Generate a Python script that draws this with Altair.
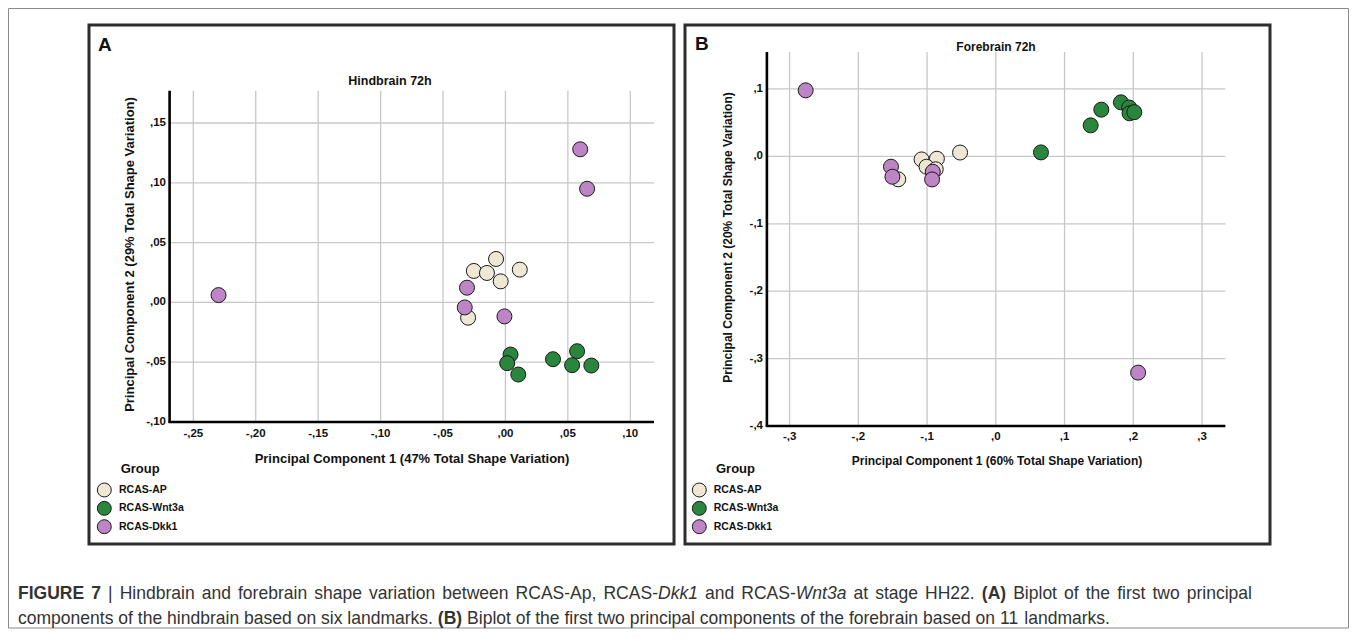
import altair as alt
import pandas as pd

# ---------------- data ----------------
groups = ["RCAS-AP", "RCAS-Wnt3a", "RCAS-Dkk1"]
group_colors = ["#EDE7D4", "#2A853D", "#BD85C5"]

# Panel A  (Hindbrain 72h)
a_ap_pc1 = [-0.0075, -0.0253, -0.0148, -0.0038, 0.0115, -0.0299]
a_ap_pc2 = [0.0363, 0.0263, 0.0246, 0.0176, 0.0274, -0.0128]
a_wnt_pc1 = [0.0041, 0.0014, 0.0103, 0.0381, 0.0574, 0.0534, 0.0688]
a_wnt_pc2 = [-0.0436, -0.0508, -0.0603, -0.0475, -0.0408, -0.0525, -0.0528]
a_dkk_pc1 = [0.0599, 0.0654, -0.2298, -0.0308, -0.0326, -0.0008]
a_dkk_pc2 = [0.128, 0.095, 0.0061, 0.0123, -0.0042, -0.0117]

# Panel B  (Forebrain 72h)
b_ap_pc1 = [-0.108, -0.0857, -0.1008, -0.0874, -0.142, -0.052]
b_ap_pc2 = [-0.0045, -0.0035, -0.0154, -0.0191, -0.034, 0.0057]
b_wnt_pc1 = [0.0657, 0.138, 0.1535, 0.182, 0.194, 0.1945, 0.2015]
b_wnt_pc2 = [0.0059, 0.046, 0.0693, 0.0802, 0.0725, 0.0639, 0.0656]
b_dkk_pc1 = [-0.2766, -0.1525, -0.1504, -0.0917, -0.0927, 0.207]
b_dkk_pc2 = [0.098, -0.0153, -0.0302, -0.0228, -0.0342, -0.3208]

a_x_ticks = [-0.25, -0.20, -0.15, -0.10, -0.05, 0.00, 0.05, 0.10]
a_x_labels = ["-,25", "-,20", "-,15", "-,10", "-,05", ",00", ",05", ",10"]
a_y_ticks = [-0.10, -0.05, 0.00, 0.05, 0.10, 0.15]
a_y_labels = ["-,10", "-,05", ",00", ",05", ",10", ",15"]
b_x_ticks = [-0.3, -0.2, -0.1, 0.0, 0.1, 0.2, 0.3]
b_x_labels = ["-,3", "-,2", "-,1", ",0", ",1", ",2", ",3"]
b_y_ticks = [-0.4, -0.3, -0.2, -0.1, 0.0, 0.1]
b_y_labels = ["-,4", "-,3", "-,2", "-,1", ",0", ",1"]

caption_line1 = [
    ("FIGURE 7 ", "bold"), ("|", "normal"),
    (" Hindbrain and forebrain shape variation between RCAS-Ap, RCAS-", "normal"),
    ("Dkk1", "italic"), (" and RCAS-", "normal"), ("Wnt3a", "italic"),
    (" at stage HH22. ", "normal"), ("(A)", "bold"),
    (" Biplot of the first two principal", "normal"),
]
caption_line2 = [
    ("components of the hindbrain based on six landmarks. ", "normal"), ("(B)", "bold"),
    (" Biplot of the first two principal components of the forebrain based on 11 landmarks.", "normal"),
]

# ---------------- style ----------------
FONT = "Liberation Sans"
GRID = "#c8c8c8"
INK = "#111111"
CAP = "#333333"
one = pd.DataFrame({"k": [0]})


def points_df(ap1, ap2, w1, w2, d1, d2):
    rows = []
    for g, xs, ys in [(groups[0], ap1, ap2), (groups[1], w1, w2), (groups[2], d1, d2)]:
        for x, y in zip(xs, ys):
            rows.append({"pc1": x, "pc2": y, "group": g})
    return pd.DataFrame(rows)


def val_text(text, x, y, size, weight="bold", align="center", angle=0, color=INK, baseline="middle"):
    kw = dict(text=text, align=align, baseline=baseline, font=FONT, fontSize=size,
              fontWeight=weight, color=color)
    if angle:
        kw["angle"] = angle
    return alt.Chart(one).mark_text(**kw).encode(x=alt.value(x), y=alt.value(y))


def frame(x0, x1, y0, y1, color, width):
    return alt.Chart(one).mark_rect(fill="transparent", stroke=color, strokeWidth=width).encode(
        x=alt.value(x0), x2=alt.value(x1), y=alt.value(y0), y2=alt.value(y1))


def panel(df, xdom, xrng, ydom, yrng, xt, xl, yt, yl, ylab_x, xlab_y, lab_size):
    xs = alt.Scale(domain=xdom, range=xrng, nice=False, zero=False)
    ys = alt.Scale(domain=ydom, range=yrng, nice=False, zero=False)
    layers = []
    layers.append(alt.Chart(pd.DataFrame({"v": xt})).mark_rule(color=GRID, strokeWidth=1.3).encode(
        x=alt.X("v:Q", scale=xs, axis=None), y=alt.value(yrng[1]), y2=alt.value(yrng[0])))
    layers.append(alt.Chart(pd.DataFrame({"v": yt[1:]})).mark_rule(color=GRID, strokeWidth=1.3).encode(
        y=alt.Y("v:Q", scale=ys, axis=None), x=alt.value(xrng[0]), x2=alt.value(xrng[1])))
    # axis lines
    layers.append(alt.Chart(one).mark_rule(color="#000", strokeWidth=2.6).encode(
        x=alt.value(xrng[0]), y=alt.value(yrng[1]), y2=alt.value(yrng[0] + 1)))
    layers.append(alt.Chart(one).mark_rule(color="#000", strokeWidth=2.6).encode(
        y=alt.value(yrng[0]), x=alt.value(xrng[0] - 1), x2=alt.value(xrng[1])))
    # tick labels
    layers.append(alt.Chart(pd.DataFrame({"v": xt, "lab": xl})).mark_text(
        font=FONT, fontSize=lab_size, fontWeight="bold", color=INK, baseline="middle", align="center").encode(
        x=alt.X("v:Q", scale=xs, axis=None), y=alt.value(xlab_y), text="lab:N"))
    layers.append(alt.Chart(pd.DataFrame({"v": yt, "lab": yl})).mark_text(
        font=FONT, fontSize=lab_size, fontWeight="bold", color=INK, baseline="middle", align="right").encode(
        y=alt.Y("v:Q", scale=ys, axis=None), x=alt.value(ylab_x), text="lab:N"))
    # points
    layers.append(alt.Chart(df).mark_circle(size=225, opacity=1, stroke="#1a1a1a", strokeWidth=1).encode(
        x=alt.X("pc1:Q", scale=xs, axis=None),
        y=alt.Y("pc2:Q", scale=ys, axis=None),
        fill=alt.Fill("group:N", scale=alt.Scale(domain=groups, range=group_colors), legend=None)))
    return layers


def legend(cx, lx, gx):
    ldf = pd.DataFrame({"group": groups})
    ls = alt.Scale(domain=groups, range=[482, 518.7], padding=0)
    pts = alt.Chart(ldf).mark_circle(size=195, opacity=1, stroke="#1a1a1a", strokeWidth=1).encode(
        y=alt.Y("group:N", scale=ls, axis=None, sort=groups), x=alt.value(cx),
        fill=alt.Fill("group:N", scale=alt.Scale(domain=groups, range=group_colors), legend=None))
    txt = alt.Chart(ldf).mark_text(font=FONT, fontSize=10.5, fontWeight="bold", color=INK,
                                   align="left", baseline="middle").encode(
        y=alt.Y("group:N", scale=ls, axis=None, sort=groups), x=alt.value(lx), text="group:N")
    return [val_text("Group", gx, 460.7, 13, align="left"), pts, txt]


# Arial / Liberation Sans advance widths (per 1000 em)
W_REG = {" ": 278, "|": 260, ",": 278, ".": 278, "-": 333, "(": 333, ")": 333,
         "A": 667, "B": 667, "C": 722, "D": 722, "H": 722, "K": 667, "P": 667, "R": 722, "S": 667, "W": 944,
         "a": 556, "b": 556, "c": 500, "d": 556, "e": 556, "f": 278, "g": 556, "h": 556, "i": 222,
         "j": 222, "k": 500, "l": 222, "m": 833, "n": 556, "o": 556, "p": 556, "q": 556, "r": 333,
         "s": 500, "t": 278, "u": 556, "v": 500, "w": 722, "x": 500, "y": 500, "z": 500}
W_BOLD = {" ": 278, "(": 333, ")": 333, "A": 722, "B": 722, "E": 667, "F": 611, "G": 778,
          "I": 278, "R": 722, "U": 722}


def tw(s, style):
    table = W_BOLD if style == "bold" else W_REG
    return sum(table.get(c, 556) for c in s) / 1000.0


def caption(segs, x0, y, fs, target=None):
    tokens = []
    for text, style in segs:
        parts = text.split(" ")
        for i, p in enumerate(parts):
            if i > 0:
                tokens.append((" ", style))
            if p:
                tokens.append((p, style))
    natural = sum(tw(t, s) for t, s in tokens) * fs
    nsp = sum(1 for t, _ in tokens if t == " ")
    extra = (target - natural) / nsp if target else 0.0
    layers = []
    x = x0
    for t, s in tokens:
        if t == " ":
            x += tw(" ", s) * fs + extra
            continue
        layers.append(alt.Chart(one).mark_text(
            text=t, align="left", baseline="alphabetic", font=FONT, fontSize=fs,
            fontWeight="bold" if s == "bold" else "normal",
            fontStyle="italic" if s == "italic" else "normal", color=CAP).encode(
            x=alt.value(x), y=alt.value(y)))
        x += tw(t, s) * fs
    return layers


cap_fs = 1092.0 / sum(tw(t, s) for t, s in caption_line2)

df_a = points_df(a_ap_pc1, a_ap_pc2, a_wnt_pc1, a_wnt_pc2, a_dkk_pc1, a_dkk_pc2)
df_b = points_df(b_ap_pc1, b_ap_pc2, b_wnt_pc1, b_wnt_pc2, b_dkk_pc1, b_dkk_pc2)

layers = []
layers.append(frame(0.5, 1340.5, 0.5, 620, "#8a8a8a", 1))
layers.append(frame(81, 666, 17, 536, "#2d2d2d", 3))
layers.append(frame(677, 1262, 17, 536, "#2d2d2d", 3))

layers += panel(df_a, [-0.269, 0.119], [161.6, 646.0], [-0.10, 0.177], [414, 82.7],
                a_x_ticks, a_x_labels, a_y_ticks, a_y_labels, 158, 426, 11.5)
layers += panel(df_b, [-0.333, 0.334], [758.9, 1217.4], [-0.4, 0.155], [418, 43.9],
                b_x_ticks, b_x_labels, b_y_ticks, b_y_labels, 755, 429, 11.5)

layers.append(val_text("A", 90, 36.5, 19, align="left"))
layers.append(val_text("B", 687, 35.5, 19, align="left"))
layers.append(val_text("Hindbrain 72h", 382, 73, 12.5))
layers.append(val_text("Forebrain 72h", 988, 39, 12))
layers.append(val_text("Principal Component 1 (47% Total Shape Variation)", 404, 451, 13))
layers.append(val_text("Principal Component 2 (29% Total Shape Variation)", 122, 246.5, 13, angle=270))
layers.append(val_text("Principal Component 1 (60% Total Shape Variation)", 989, 453, 12))
layers.append(val_text("Principal Component 2 (20% Total Shape Variation)", 720, 229.5, 12, angle=270))

layers += legend(96.3, 111, 112.7)
layers += legend(691.3, 705.7, 708)

layers += caption(caption_line1, 10, 591, cap_fs, target=1234.0)
layers += caption(caption_line2, 10, 615.5, cap_fs)

chart = alt.layer(*layers).resolve_scale(
    x="independent", y="independent", fill="independent"
).properties(
    width=1341, height=621, padding=0,
    autosize=alt.AutoSizeParams(type="none"),
    background="white",
).configure_view(stroke=None)

chart.save("out.html", embed_options={"renderer": "svg", "actions": False})
